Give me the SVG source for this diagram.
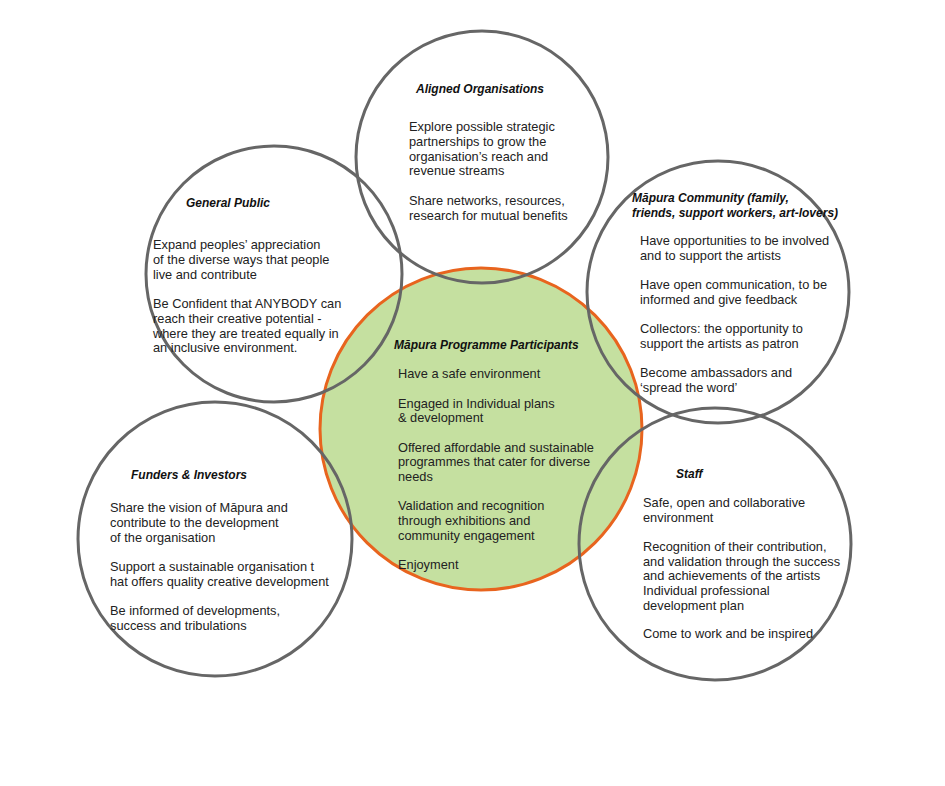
<svg xmlns="http://www.w3.org/2000/svg" width="945" height="786" viewBox="0 0 945 786">
<style>
.c{fill:none;stroke:#666;stroke-width:3}
.m{fill:#c5e0a0;stroke:#e8641e;stroke-width:3}
text{font-family:"Liberation Sans",Arial,sans-serif;font-size:12.8px;fill:#222}
.t{font-weight:bold;font-style:italic;font-size:12px;fill:#111}
</style>
<rect width="945" height="786" fill="#fff"/>
<g id="participants"><circle class="m" cx="481" cy="429" r="161"/>
<text class="t" x="394" y="349">Māpura Programme Participants</text>
<text x="398" y="378">Have a safe environment</text>
<text x="398" y="408">Engaged in Individual plans</text><text x="398" y="422">&amp; development</text>
<text x="398" y="452">Offered affordable and sustainable</text><text x="398" y="466">programmes that cater for diverse</text><text x="398" y="481">needs</text>
<text x="398" y="510">Validation and recognition</text><text x="398" y="525">through exhibitions and</text><text x="398" y="540">community engagement</text>
<text x="398" y="569">Enjoyment</text></g>
<g id="connectors"></g>
<g id="aligned"><circle class="c" cx="482" cy="157" r="126"/>
<text class="t" x="416" y="93">Aligned Organisations</text>
<text x="409" y="131">Explore possible strategic</text><text x="409" y="146">partnerships to grow the</text><text x="409" y="161">organisation’s reach and</text><text x="409" y="175">revenue streams</text>
<text x="409" y="205">Share networks, resources,</text><text x="409" y="220">research for mutual benefits</text></g>
<g id="public"><circle class="c" cx="274" cy="274" r="128"/>
<text class="t" x="186" y="207">General Public</text>
<text x="153" y="249">Expand peoples’ appreciation</text><text x="153" y="264">of the diverse ways that people</text><text x="153" y="279">live and contribute</text>
<text x="153" y="308">Be Confident that ANYBODY can</text><text x="153" y="323">reach  their creative potential  -</text><text x="153" y="338">where they are treated equally in</text><text x="153" y="352">an inclusive environment.</text></g>
<g id="community"><circle class="c" cx="718" cy="292" r="131"/>
<text class="t" x="632" y="202">Māpura Community (family,</text><text class="t" x="632" y="217">friends, support workers, art-lovers)</text>
<text x="640" y="245">Have opportunities to be involved</text><text x="640" y="260">and to support the artists</text>
<text x="640" y="289">Have open communication, to be</text><text x="640" y="304">informed and give feedback</text>
<text x="640" y="333">Collectors: the opportunity to</text><text x="640" y="348">support the artists as patron</text>
<text x="640" y="377">Become ambassadors and</text><text x="640" y="392">‘spread the word’</text></g>
<g id="funders"><circle class="c" cx="215" cy="539" r="137"/>
<text class="t" x="131" y="479">Funders &amp; Investors</text>
<text x="110" y="512">Share the vision of Māpura and</text><text x="110" y="527">contribute to the development</text><text x="110" y="542">of the organisation</text>
<text x="110" y="571">Support a sustainable organisation t</text><text x="110" y="586">hat offers quality creative development</text>
<text x="110" y="615">Be informed of developments,</text><text x="110" y="630">success and tribulations</text></g>
<g id="staff"><circle class="c" cx="715" cy="544" r="136"/>
<text class="t" x="676" y="478">Staff</text>
<text x="643" y="507">Safe, open and collaborative</text><text x="643" y="522">environment</text>
<text x="643" y="551">Recognition of their contribution,</text><text x="643" y="566">and validation through the success</text><text x="643" y="580">and achievements of the artists</text><text x="643" y="595">Individual professional</text><text x="643" y="610">development plan</text>
<text x="643" y="638">Come to work and be inspired</text></g>
</svg>
